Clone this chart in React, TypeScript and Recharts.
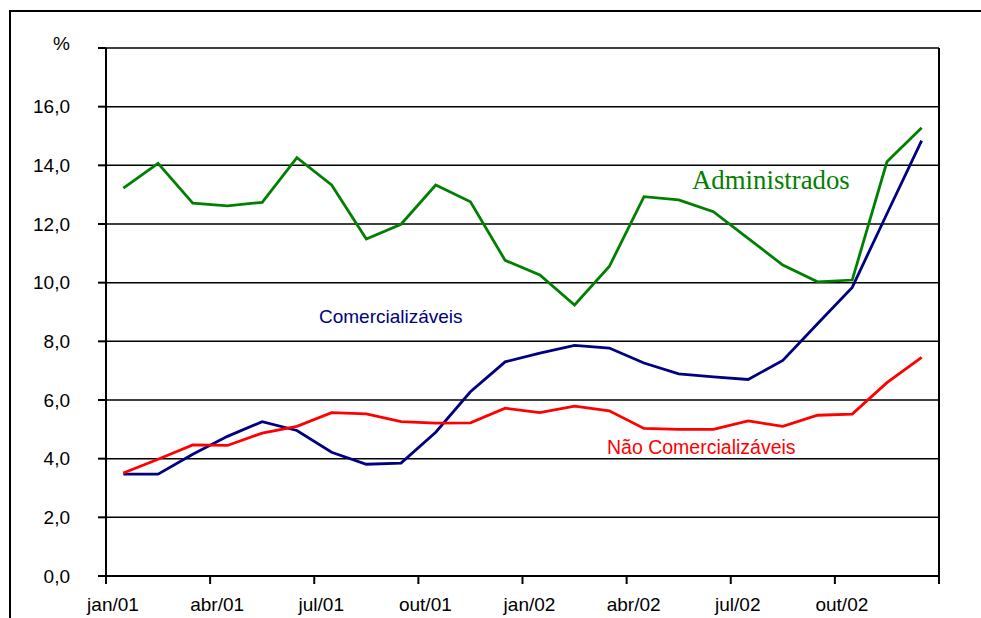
import React from "react";
import {
  LineChart, Line, XAxis, YAxis, CartesianGrid, ReferenceLine
} from "recharts";

// monthly series, jan/01 .. dez/02
const MONTHS = [
  "jan/01", "fev/01", "mar/01", "abr/01", "mai/01", "jun/01",
  "jul/01", "ago/01", "set/01", "out/01", "nov/01", "dez/01",
  "jan/02", "fev/02", "mar/02", "abr/02", "mai/02", "jun/02",
  "jul/02", "ago/02", "set/02", "out/02", "nov/02", "dez/02",
];
const ADMINISTRADOS = [
  13.22, 14.07, 12.71, 12.62, 12.74, 14.26, 13.33, 11.49, 11.99, 13.33, 12.76, 10.76,
  10.26, 9.24, 10.55, 12.93, 12.82, 12.42, 11.51, 10.6, 10.03, 10.09, 14.12, 15.28,
];
const COMERCIALIZAVEIS = [
  3.47, 3.47, 4.15, 4.76, 5.26, 4.96, 4.22, 3.81, 3.85, 4.9, 6.28, 7.3,
  7.6, 7.86, 7.77, 7.26, 6.89, 6.79, 6.7, 7.35, 8.6, 9.84, 12.35, 14.84,
];
const NAO_COMERCIALIZAVEIS = [
  3.51, 3.98, 4.47, 4.45, 4.87, 5.1, 5.57, 5.53, 5.26, 5.21, 5.22, 5.72,
  5.57, 5.79, 5.63, 5.03, 5.0, 5.0, 5.29, 5.1, 5.48, 5.52, 6.59, 7.45,
];
const X_TICKS = [0, 3, 6, 9, 12, 15, 18, 21, 24];
const X_TICK_LABELS = ["jan/01", "abr/01", "jul/01", "out/01", "jan/02", "abr/02", "jul/02", "out/02", ""];
const Y_TICKS = [0, 2, 4, 6, 8, 10, 12, 14, 16, 18];

const data = MONTHS.map((m, i) => ({
  month: m,
  x: i + 0.5,
  adm: ADMINISTRADOS[i],
  com: COMERCIALIZAVEIS[i],
  nao: NAO_COMERCIALIZAVEIS[i],
}));

const FONT = "'Liberation Sans', Arial, sans-serif";

function YTick(props: any) {
  const { x, y, payload } = props;
  const v = payload.value as number;
  const label = v === 18 ? "%" : v.toFixed(1).replace(".", ",");
  return (
    <text x={x} y={y + (v === 18 ? -5 : 0)} dy="0.355em" textAnchor="end"
      fontSize={19} fontFamily={FONT} fill="#000">
      {label}
    </text>
  );
}

function XTick(props: any) {
  const { x, y, payload } = props;
  const idx = X_TICKS.indexOf(payload.value);
  return (
    <text x={x + 7} y={y} dy="0.71em" textAnchor="middle"
      fontSize={19} fontFamily={FONT} fill="#000">
      {X_TICK_LABELS[idx] ?? ""}
    </text>
  );
}

export default function App() {
  return (
    <div style={{
      position: "absolute", left: 0, top: 0, width: 981, height: 618,
      overflow: "hidden", background: "#fff"
    }}>
      <div style={{
        position: "absolute", left: 9, top: 10, width: 1000, height: 700,
        borderLeft: "2px solid #000", borderTop: "2px solid #000"
      }} />
      <div style={{ position: "absolute", left: 0, top: 0 }}>
        <LineChart width={981} height={618} data={data}
          margin={{ top: 48, right: 42, bottom: 0, left: 0 }}>
          <CartesianGrid vertical={false} stroke="#000" strokeWidth={1.5}
            horizontalValues={Y_TICKS} />
          <ReferenceLine x={24} stroke="#000" strokeWidth={2} />
          <XAxis dataKey="x" type="number" domain={[0, 24]} ticks={X_TICKS}
            height={42} tickSize={8} tickMargin={14}
            axisLine={{ stroke: "#000", strokeWidth: 2 }}
            tickLine={{ stroke: "#000", strokeWidth: 2 }}
            tick={<XTick />} interval={0} allowDataOverflow />
          <YAxis type="number" domain={[0, 18]} ticks={Y_TICKS} width={106}
            tickSize={8} tickMargin={28} interval={0}
            axisLine={{ stroke: "#000", strokeWidth: 2 }}
            tickLine={{ stroke: "#000", strokeWidth: 2 }}
            tick={<YTick />} />
          <Line type="linear" dataKey="adm" stroke="#008000" strokeWidth={2.8}
            dot={false} isAnimationActive={false} />
          <Line type="linear" dataKey="com" stroke="#000080" strokeWidth={2.8}
            dot={false} isAnimationActive={false} />
          <Line type="linear" dataKey="nao" stroke="#ff0000" strokeWidth={2.8}
            dot={false} isAnimationActive={false} />
        </LineChart>
      </div>
      <svg width={981} height={618}
        style={{ position: "absolute", left: 0, top: 0, pointerEvents: "none" }}>
        <text x={692} y={189} fontSize={26.8} fontFamily="'Liberation Serif', 'Times New Roman', serif"
          fill="#008000">Administrados</text>
        <text x={319} y={323} fontSize={19} fontFamily={FONT} fill="#000080">Comercializáveis</text>
        <text x={607} y={454} fontSize={19.5} fontFamily={FONT} fill="#ff0000">Não Comercializáveis</text>
      </svg>
    </div>
  );
}
